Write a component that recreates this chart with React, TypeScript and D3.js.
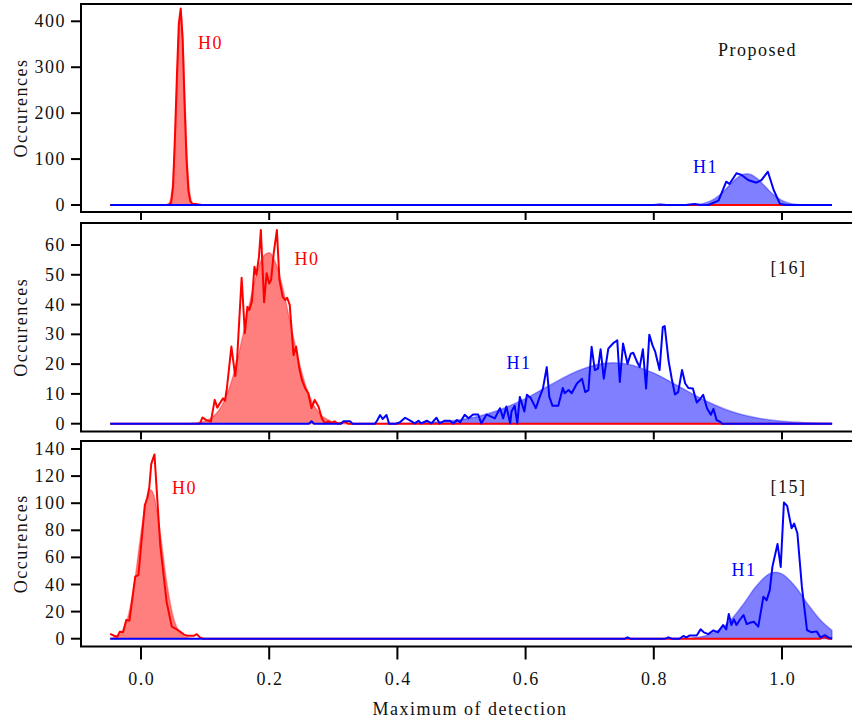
import React from 'react';
import * as d3 from 'd3';

type Pt = [number, number];

const xTicks = [0, 0.2, 0.4, 0.6, 0.8, 1.0];
const xTickLabels = ['0.0', '0.2', '0.4', '0.6', '0.8', '1.0'];
const p1YTicks = [0, 100, 200, 300, 400];
const p2YTicks = [0, 10, 20, 30, 40, 50, 60];
const p3YTicks = [0, 20, 40, 60, 80, 100, 120, 140];
const panelTitles = ['Proposed', '[16]', '[15]'];
const xTitle = 'Maximum of detection';
const yTitle = 'Occurences';

// Panel 1 (Proposed)
const p1H0Line: Pt[] = [[-0.048, 0], [0.040, 0], [0.044, 1], [0.047, 5], [0.050, 40], [0.053, 150], [0.056, 280], [0.059, 395], [0.062, 428], [0.065, 360], [0.068, 220], [0.071, 100], [0.074, 30], [0.077, 8], [0.080, 3], [0.085, 2], [0.090, 1], [0.095, 0], [1.078, 0]];
const p1H0Fit: Pt[] = [[0.038, 0], [0.041, 1], [0.044, 4.6], [0.047, 18], [0.050, 57], [0.053, 136], [0.056, 255], [0.059, 371], [0.062, 420], [0.065, 371], [0.068, 255], [0.071, 136], [0.074, 57], [0.077, 18], [0.080, 4.6], [0.083, 1], [0.086, 0]];
const p1H1Line: Pt[] = [[-0.048, 0], [0.800, 0], [0.810, 1], [0.820, 0], [0.850, 0], [0.856, 1], [0.864, 2], [0.872, 0], [0.885, 0], [0.901, 9.4], [0.913, 50.8], [0.918, 45.7], [0.929, 69], [0.937, 65.3], [0.947, 54.4], [0.960, 48.6], [0.968, 54.4], [0.978, 72.5], [0.987, 32.7], [0.997, 2], [1.007, 0], [1.078, 0]];
const p1H1Fit: Pt[] = [[0.84, 0], [0.86, 0.7], [0.87, 1.9], [0.88, 4.6], [0.89, 9.9], [0.90, 18.7], [0.91, 31.1], [0.92, 45.7], [0.93, 58.9], [0.94, 66.9], [0.945, 68], [0.95, 66.9], [0.96, 58.9], [0.97, 45.7], [0.98, 31.1], [0.99, 18.7], [1.00, 9.9], [1.01, 4.6], [1.02, 1.9], [1.03, 0.7], [1.05, 0]];

// Panel 2 ([16])
const p2H0Line: Pt[] = [[-0.048, 0], [0.088, 0], [0.092, 0.1], [0.096, 2.1], [0.102, 1.2], [0.109, 0.7], [0.115, 8.0], [0.119, 5.4], [0.124, 7.2], [0.128, 8.5], [0.131, 7.7], [0.134, 11.9], [0.141, 25.9], [0.147, 16.0], [0.150, 22.0], [0.157, 49.0], [0.162, 30.4], [0.166, 39.3], [0.169, 38.2], [0.173, 41.0], [0.177, 52.7], [0.180, 50.0], [0.184, 56.0], [0.187, 65.0], [0.192, 40.8], [0.196, 50.5], [0.200, 47.1], [0.203, 48.3], [0.207, 57.2], [0.212, 65.0], [0.216, 48.3], [0.221, 42.6], [0.225, 41.5], [0.228, 42.3], [0.232, 39.9], [0.238, 23.0], [0.242, 25.9], [0.247, 18.6], [0.251, 14.7], [0.256, 11.9], [0.261, 10.2], [0.266, 5.2], [0.271, 8.0], [0.277, 5.7], [0.282, 1.8], [0.287, 0.1], [0.292, 0.8], [0.297, 0.2], [0.302, 0.8], [0.307, 0], [0.318, 0.6], [0.323, 0], [1.078, 0]];
const p2H0Fit: Pt[] = [[0.07, 0], [0.08, 0.1], [0.09, 0.4], [0.10, 0.9], [0.11, 2.0], [0.12, 4.1], [0.13, 7.8], [0.14, 13.4], [0.15, 21.2], [0.16, 30.8], [0.17, 41.0], [0.18, 50.0], [0.19, 55.9], [0.20, 57.4], [0.21, 54.0], [0.22, 46.6], [0.23, 36.9], [0.24, 26.8], [0.25, 17.8], [0.26, 10.9], [0.27, 6.1], [0.28, 3.1], [0.29, 1.5], [0.30, 0.6], [0.31, 0.25], [0.32, 0.1], [0.34, 0]];
const p2H1Line: Pt[] = [[-0.048, 0], [0.262, 0], [0.266, 0.8], [0.270, 0], [0.312, 0], [0.316, 0.8], [0.326, 0.8], [0.330, 0], [0.365, 0], [0.368, 0.9], [0.373, 2.9], [0.377, 1.6], [0.383, 2.9], [0.387, 0], [0.398, 0], [0.404, 0.5], [0.412, 2.0], [0.420, 1.0], [0.427, 0.1], [0.433, 1.0], [0.437, 0.1], [0.446, 1.0], [0.453, 0.1], [0.461, 2.0], [0.466, 0.1], [0.474, 1.0], [0.482, 1.0], [0.487, 0.1], [0.493, 1.2], [0.498, 0.5], [0.505, 3.0], [0.511, 1.8], [0.518, 3.1], [0.526, 3.1], [0.531, 0.1], [0.539, 3.1], [0.546, 2.4], [0.552, 1.8], [0.560, 5.2], [0.565, 1.8], [0.570, 5.8], [0.576, 0.1], [0.578, 4.1], [0.583, 6.0], [0.587, 0.1], [0.591, 9.0], [0.598, 4.1], [0.602, 9.7], [0.608, 8.6], [0.616, 5.2], [0.622, 9.0], [0.627, 11.8], [0.633, 19.0], [0.637, 9.0], [0.642, 6.0], [0.651, 6.0], [0.658, 12.0], [0.661, 10.2], [0.667, 11.3], [0.672, 10.2], [0.680, 13.5], [0.688, 15.1], [0.693, 10.6], [0.698, 11.3], [0.703, 25.8], [0.708, 18.0], [0.713, 18.5], [0.717, 25.0], [0.722, 15.1], [0.729, 25.2], [0.737, 27.1], [0.743, 28.0], [0.747, 14.0], [0.752, 26.9], [0.759, 20.1], [0.764, 23.5], [0.768, 23.8], [0.774, 20.7], [0.778, 19.0], [0.783, 25.0], [0.788, 11.8], [0.793, 29.9], [0.798, 26.3], [0.802, 24.3], [0.809, 18.0], [0.814, 32.4], [0.817, 32.8], [0.823, 21.2], [0.828, 15.1], [0.833, 9.8], [0.838, 10.6], [0.844, 18.0], [0.849, 13.5], [0.854, 12.0], [0.861, 11.8], [0.867, 7.1], [0.872, 8.2], [0.877, 9.7], [0.883, 5.2], [0.889, 3.0], [0.893, 5.0], [0.898, 1.2], [0.903, 0.7], [0.907, 0], [1.078, 0]];
const p2H1Fit: Pt[] = [[0.36, 0], [0.40, 0.1], [0.44, 0.3], [0.48, 0.9], [0.52, 2.2], [0.56, 4.7], [0.60, 8.5], [0.64, 13.2], [0.68, 17.6], [0.72, 20.2], [0.737, 20.5], [0.76, 20.0], [0.80, 17.0], [0.84, 12.4], [0.88, 7.8], [0.92, 4.2], [0.96, 2.0], [1.00, 0.8], [1.04, 0.3], [1.078, 0.1]];

// Panel 3 ([15])
const p3H0Line: Pt[] = [[-0.048, 3.5], [-0.042, 2.2], [-0.037, 1.5], [-0.033, 5.2], [-0.028, 4.7], [-0.023, 13.8], [-0.018, 13.3], [-0.009, 45.8], [-0.004, 47.0], [0.006, 98.7], [0.010, 104], [0.013, 112], [0.016, 129], [0.021, 136], [0.030, 69], [0.040, 27], [0.048, 8.9], [0.053, 7.7], [0.061, 5.2], [0.067, 3.0], [0.072, 2.2], [0.079, 2.2], [0.083, 2.2], [0.087, 3.3], [0.092, 1.0], [0.097, 0], [1.060, 0], [1.066, 1.2], [1.072, 0], [1.078, 0]];
const p3H0Fit: Pt[] = [[-0.048, 0.2], [-0.04, 1.0], [-0.03, 4.8], [-0.02, 16.6], [-0.01, 41.9], [0.0, 77.8], [0.01, 105.9], [0.015, 110], [0.02, 105.9], [0.03, 77.8], [0.04, 41.9], [0.05, 16.6], [0.06, 4.8], [0.07, 1.0], [0.08, 0.2], [0.09, 0]];
const p3H1Line: Pt[] = [[-0.048, 0], [0.755, 0], [0.759, 1], [0.763, 0], [0.818, 0], [0.823, 1], [0.828, 0], [0.840, 0], [0.846, 2], [0.851, 1], [0.856, 2.4], [0.867, 2.4], [0.873, 6.9], [0.878, 4.7], [0.885, 3.4], [0.893, 6.1], [0.900, 4.7], [0.908, 10.1], [0.913, 6.9], [0.917, 18.2], [0.921, 10.1], [0.925, 14.3], [0.929, 10.1], [0.934, 13.8], [0.940, 17.5], [0.945, 10.8], [0.950, 11.8], [0.956, 12.5], [0.963, 8.9], [0.971, 31], [0.976, 28.3], [0.981, 36], [0.985, 53], [0.993, 69.9], [0.998, 53], [1.003, 100.5], [1.008, 98], [1.015, 81.5], [1.019, 85], [1.024, 77.8], [1.031, 38.4], [1.039, 6.4], [1.046, 4.7], [1.054, 5.4], [1.060, 1], [1.067, 2.6], [1.072, 1], [1.078, 0]];
const p3H1Fit: Pt[] = [[0.80, 0], [0.84, 0.15], [0.86, 0.6], [0.88, 2.1], [0.90, 6.1], [0.92, 13.8], [0.94, 25.7], [0.96, 38.9], [0.98, 47.8], [0.99, 49], [1.00, 47.8], [1.02, 38.9], [1.04, 25.7], [1.06, 13.8], [1.078, 6.1]];

const FONT = "'Liberation Serif', 'DejaVu Serif', serif";
const RED = '#ff0000';
const BLUE = '#0000ff';

export default function App() {
  const W = 852, H = 721;
  const frameLeft = 81, frameRight = 866;
  const x = d3.scaleLinear().domain([0, 1]).range([141, 782]);

  const panels = [
    { top: 4, bottom: 212, yr: [205, 21.3], ymax: 400, ticks: p1YTicks, tickLen: 8,
      h0: p1H0Line, h0f: p1H0Fit, h1: p1H1Line, h1f: p1H1Fit,
      title: panelTitles[0], titlePos: [718, 56], h0Pos: [198, 49], h1Pos: [693, 173] },
    { top: 223, bottom: 431.5, yr: [423.7, 245], ymax: 60, ticks: p2YTicks, tickLen: 8,
      h0: p2H0Line, h0f: p2H0Fit, h1: p2H1Line, h1f: p2H1Fit,
      title: panelTitles[1], titlePos: [770.5, 274], h0Pos: [294.5, 265], h1Pos: [506.5, 369] },
    { top: 441, bottom: 646.5, yr: [638.7, 449], ymax: 140, ticks: p3YTicks, tickLen: 13,
      h0: p3H0Line, h0f: p3H0Fit, h1: p3H1Line, h1f: p3H1Fit,
      title: panelTitles[2], titlePos: [770.5, 493], h0Pos: [172, 494], h1Pos: [731.5, 576] },
  ];

  const textStyle: React.CSSProperties = { fontFamily: FONT, fontSize: 18, letterSpacing: 1.5 };

  return (
    <svg width={W} height={H} viewBox={`0 0 ${W} ${H}`}
      style={{ position: 'absolute', left: 0, top: 0, background: '#fff' }}>
      <rect x={0} y={0} width={W} height={H} fill="#fff" />
      {panels.map((p, i) => {
        const y = d3.scaleLinear().domain([0, p.ymax]).range(p.yr);
        const line = d3.line<Pt>().x(d => x(d[0])).y(d => y(d[1]));
        const area = d3.area<Pt>().x(d => x(d[0])).y0(y(0)).y1(d => y(d[1])).curve(d3.curveMonotoneX);
        const cy = (p.top + p.bottom) / 2;
        return (
          <g key={i}>
            <path d={area(p.h0f) || ''} fill="rgba(255,0,0,0.5)" stroke="rgba(255,0,0,0.35)" strokeWidth={1.5} />
            <path d={area(p.h1f) || ''} fill="rgba(0,0,255,0.5)" stroke="rgba(0,0,255,0.35)" strokeWidth={1.5} />
            <path d={line(p.h0) || ''} fill="none" stroke={RED} strokeWidth={2} strokeLinejoin="round" />
            <path d={line(p.h1) || ''} fill="none" stroke={BLUE} strokeWidth={2} strokeLinejoin="round" />
            <rect x={frameLeft} y={p.top} width={frameRight - frameLeft} height={p.bottom - p.top}
              fill="none" stroke="#000" strokeWidth={2} />
            {p.ticks.map(t => (
              <g key={t}>
                <line x1={71} x2={frameLeft} y1={y(t)} y2={y(t)} stroke="#000" strokeWidth={2} />
                <text x={66} y={y(t) + 6} textAnchor="end" style={textStyle} fill="#111">{t}</text>
              </g>
            ))}
            {xTicks.map(t => (
              <line key={t} x1={x(t)} x2={x(t)} y1={p.bottom} y2={p.bottom + p.tickLen} stroke="#000" strokeWidth={2} />
            ))}
            <text transform={`translate(26.5,${cy}) rotate(-90)`} textAnchor="middle" style={textStyle} fill="#111">{yTitle}</text>
            <text x={p.titlePos[0]} y={p.titlePos[1]} style={textStyle} fill="#111">{p.title}</text>
            <text x={p.h0Pos[0]} y={p.h0Pos[1]} style={textStyle} fill={RED}>H0</text>
            <text x={p.h1Pos[0]} y={p.h1Pos[1]} style={textStyle} fill={BLUE}>H1</text>
          </g>
        );
      })}
      {xTicks.map((t, i) => (
        <text key={t} x={x(t) + 0.75} y={685} textAnchor="middle" style={textStyle} fill="#111">{xTickLabels[i]}</text>
      ))}
      <text x={470} y={715} textAnchor="middle" style={textStyle} fill="#111">{xTitle}</text>
    </svg>
  );
}
